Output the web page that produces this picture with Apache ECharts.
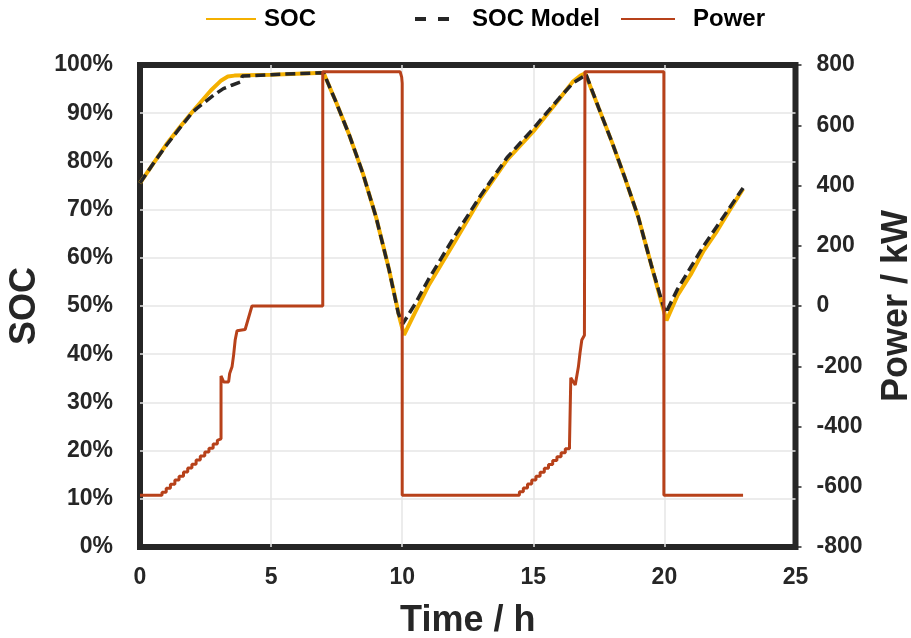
<!DOCTYPE html>
<html>
<head>
<meta charset="utf-8">
<script src="https://cdn.jsdelivr.net/npm/echarts@6/dist/echarts.min.js"></script>
<style>
html,body{margin:0;padding:0;background:#fff;}
#chart{width:911px;height:638px;}
</style>
</head>
<body>
<div id="chart"></div>
<script>
// ---- data (time in h) ----
const seriesNames = ['SOC', 'SOC Model', 'Power'];

const socData = [
  [0,75.5],[0.5,79.5],[1,83.5],[1.5,87],[2,90.3],[2.7,94.7],[3.1,96.8],[3.35,97.6],[3.6,97.8],
  [5,98],[6,98.2],[7,98.4],
  [7.5,92],[8,85.2],[8.5,77.5],[9,68.5],[9.5,57.5],[9.9,47.5],[10.07,44],
  [10.5,48.8],[11,54.2],[12,63.3],[13,72.5],[14,80.3],[15,86.2],[16,93],[16.5,96.5],[16.8,97.8],[16.98,98.3],
  [17.5,91],[18,84],[18.5,76.5],[19,68.5],[19.5,58.5],[19.9,50.5],[20.08,47],
  [20.5,52.2],[21,56.5],[21.5,61.5],[22,65.5],[22.5,70],[23,74.3]
];

const modelData = [
  [0,75.5],[0.5,79.5],[1,83.3],[1.5,86.8],[2,90.2],[2.17,91],[2.8,93.7],[3.18,95.1],[3.5,95.8],[3.85,96.5],[3.9,97.7],
  [5,98],[6,98.2],[7,98.4],
  [7.5,92],[8,85.2],[8.5,77.5],[9,68.5],[9.5,57.5],[9.85,48.5],[10.02,46.3],
  [10.5,50.5],[11,55.5],[12,64.5],[13,73],[14,80.8],[15,86.8],[16,93.2],[16.5,96.2],[16.9,97.6],[17,98.2],
  [17.5,91],[18,84],[18.5,76.5],[19,68.5],[19.5,58.5],[19.9,51],[20.05,48.5],
  [20.5,53.5],[21,58],[21.5,62.5],[22,66.5],[22.5,70.5],[23,74.5]
];

const powerData = [
  [0,-628],[0.84,-628],
  [0.84,-618],[1.0,-618],[1.0,-605],[1.16,-605],[1.16,-592],[1.33,-592],[1.33,-578],[1.49,-578],
  [1.49,-565],[1.66,-565],[1.66,-551],[1.82,-551],[1.82,-538],[1.98,-538],[1.98,-525],[2.14,-525],
  [2.14,-511],[2.3,-511],[2.3,-498],[2.47,-498],[2.47,-485],[2.63,-485],[2.63,-472],[2.79,-472],
  [2.79,-458],[2.95,-458],[2.95,-446],[3.09,-441],
  [3.09,-232],[3.12,-232],[3.19,-252],[3.38,-252],[3.42,-224],[3.51,-202],[3.57,-163],[3.63,-113],
  [3.70,-82],[4.01,-78],[4.27,0],[6.97,0],
  [6.97,778],[9.92,778],[9.98,760],[10.0,740],[10.0,-628],
  [14.47,-628],[14.47,-617],[14.62,-617],[14.62,-604],[14.78,-604],[14.78,-591],[14.94,-591],
  [14.94,-578],[15.1,-578],[15.1,-565],[15.26,-565],[15.26,-552],[15.42,-552],[15.42,-539],[15.58,-539],
  [15.58,-526],[15.74,-526],[15.74,-513],[15.9,-513],[15.9,-500],[16.06,-500],[16.06,-487],[16.22,-487],
  [16.22,-474],[16.38,-474],[16.38,-463],[16.43,-461],
  [16.43,-238],[16.5,-236],[16.6,-262],[16.65,-258],[16.72,-202],[16.78,-157],[16.85,-113],[16.95,-97],
  [16.97,-97],[16.97,778],[19.98,778],[19.98,-628],[23.0,-628]
];

const xRange = [0, 25, 5];
const socRange = [0, 100, 10];
const powerRange = [-800, 800, 200];

const FONT = 'Liberation Sans';
const DARK = '#262626';
const GRID = '#e6e6e6';

const chart = echarts.init(document.getElementById('chart'));
const legendText = {fontFamily: FONT, fontSize: 24, fontWeight: 'bold', color: '#000'};
const legendBase = {top: 7, padding: 0, itemHeight: 14, itemStyle: {opacity: 0}};
chart.setOption({
  animation: false,
  textStyle: {fontFamily: FONT},
  legend: [
    Object.assign({data: [seriesNames[0]], left: 205, itemWidth: 50,
     textStyle: Object.assign({padding: [0, 0, 0, 3]}, legendText)}, legendBase),
    Object.assign({data: [seriesNames[1]], left: 413, itemWidth: 34,
     lineStyle: {type: [11, 12], width: 4},
     textStyle: Object.assign({padding: [0, 0, 0, 18]}, legendText)}, legendBase),
    Object.assign({data: [seriesNames[2]], left: 620, itemWidth: 54,
     textStyle: Object.assign({padding: [0, 0, 0, 13]}, legendText)}, legendBase)
  ],
  grid: {left: 140, right: 115.5, top: 65, bottom: 91, show: true,
         outerBoundsMode: 'none', containLabel: false,
         borderColor: DARK, borderWidth: 6, backgroundColor: 'transparent'},
  xAxis: {
    type: 'value', min: xRange[0], max: xRange[1], interval: xRange[2],
    name: 'Time / h', nameLocation: 'middle', nameGap: 56,
    nameTextStyle: {fontFamily: FONT, fontSize: 36, fontWeight: 'bold', color: DARK},
    axisLine: {show: false}, axisTick: {show: false},
    axisLabel: {fontFamily: FONT, fontSize: 23, fontWeight: 'bold', color: DARK, margin: 19},
    splitLine: {show: true, showMinLine: false, showMaxLine: false, lineStyle: {color: GRID, width: 1.5}}
  },
  yAxis: [
    {
      type: 'value', min: socRange[0], max: socRange[1], interval: socRange[2],
      name: 'SOC', nameLocation: 'middle', nameGap: 84, nameRotate: 90,
      nameTextStyle: {fontFamily: FONT, fontSize: 36, fontWeight: 'bold', color: DARK},
      axisLine: {show: false}, axisTick: {show: false},
      axisLabel: {fontFamily: FONT, fontSize: 23, fontWeight: 'bold', color: DARK, margin: 27,
                  formatter: '{value}%'},
      splitLine: {show: true, showMinLine: false, showMaxLine: false, lineStyle: {color: GRID, width: 1.5}}
    },
    {
      type: 'value', min: powerRange[0], max: powerRange[1], interval: powerRange[2],
      name: 'Power / kW', nameLocation: 'middle', nameGap: 84, nameRotate: 90,
      nameTextStyle: {fontFamily: FONT, fontSize: 36, fontWeight: 'bold', color: DARK},
      axisLine: {show: false},
      axisTick: {show: true, length: 6, lineStyle: {color: DARK, width: 1.5}},
      axisLabel: {fontFamily: FONT, fontSize: 23, fontWeight: 'bold', color: DARK, margin: 21},
      splitLine: {show: false}
    }
  ],
  series: [
    {name: seriesNames[0], type: 'line', yAxisIndex: 0, data: socData, symbol: 'none',
     color: '#F4B000', lineStyle: {color: '#F4B000', width: 4}, z: 2},
    {name: seriesNames[1], type: 'line', yAxisIndex: 0, data: modelData, symbol: 'none',
     color: DARK, lineStyle: {color: DARK, width: 3.5, type: [10, 5]}, z: 3},
    {name: seriesNames[2], type: 'line', yAxisIndex: 1, data: powerData, symbol: 'none',
     color: '#B7411A', lineStyle: {color: '#B7411A', width: 3}, z: 4}
  ]
});
</script>
</body>
</html>
